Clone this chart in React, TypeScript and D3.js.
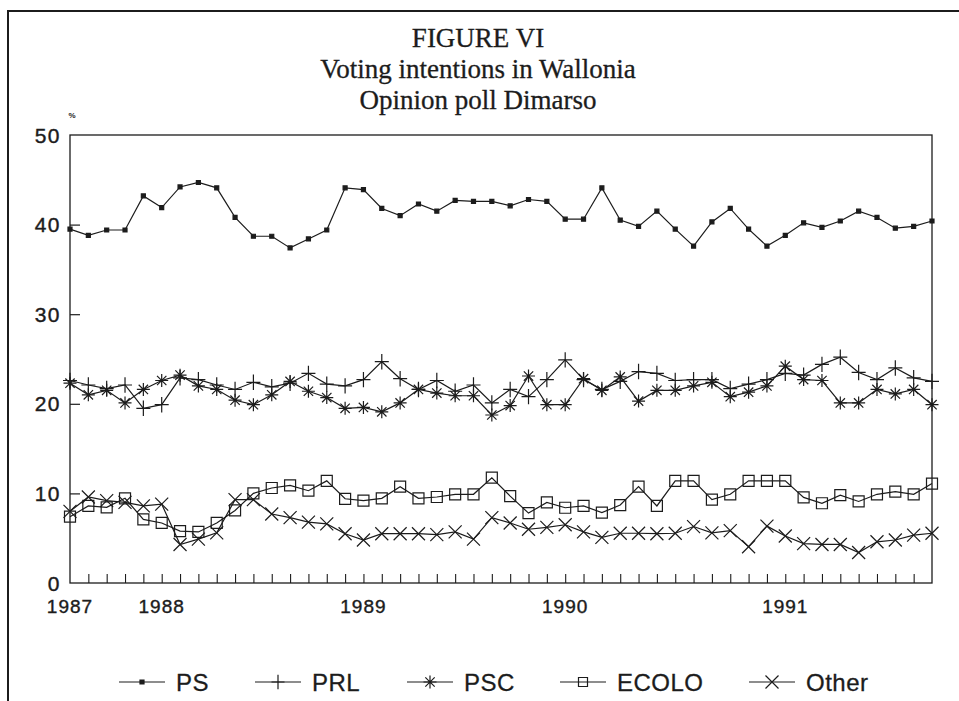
import { useEffect, useRef } from "react";
import * as d3 from "d3";

const ps = [39.5, 38.8, 39.4, 39.4, 43.2, 41.9, 44.2, 44.7, 44.1, 40.8, 38.7, 38.7, 37.4, 38.4, 39.4, 44.1, 43.9, 41.8, 41.0, 42.3, 41.5, 42.7, 42.6, 42.6, 42.1, 42.8, 42.6, 40.6, 40.6, 44.1, 40.5, 39.8, 41.5, 39.5, 37.6, 40.3, 41.8, 39.5, 37.6, 38.8, 40.2, 39.7, 40.4, 41.5, 40.8, 39.6, 39.8, 40.4];
const prl = [22.6, 22.1, 21.7, 22.1, 19.5, 19.9, 22.9, 22.7, 22.1, 21.6, 22.4, 21.9, 22.3, 23.4, 22.2, 22.0, 22.7, 24.7, 22.8, 21.6, 22.6, 21.4, 22.1, 20.1, 21.6, 20.8, 22.7, 24.9, 22.7, 21.6, 22.5, 23.6, 23.4, 22.6, 22.7, 22.7, 21.7, 22.2, 22.7, 23.4, 23.2, 24.4, 25.2, 23.5, 22.7, 24.0, 22.9, 22.5];
const psc = [22.3, 21.0, 21.5, 20.1, 21.6, 22.6, 23.2, 22.0, 21.6, 20.4, 19.9, 21.0, 22.5, 21.4, 20.7, 19.5, 19.6, 19.1, 20.1, 21.6, 21.2, 20.9, 20.9, 18.75, 19.8, 23.1, 19.9, 19.9, 22.8, 21.5, 23.0, 20.3, 21.5, 21.5, 22.0, 22.4, 20.8, 21.3, 22.0, 24.2, 22.7, 22.6, 20.1, 20.1, 21.6, 21.1, 21.6, 19.9];
const ecolo = [7.4, 8.6, 8.45, 9.45, 7.1, 6.7, 5.8, 5.7, 6.7, 8.1, 10.0, 10.6, 10.9, 10.3, 11.4, 9.4, 9.2, 9.45, 10.75, 9.45, 9.6, 9.9, 9.9, 11.75, 9.7, 7.8, 9.0, 8.4, 8.6, 7.85, 8.7, 10.75, 8.6, 11.4, 11.4, 9.3, 9.9, 11.4, 11.4, 11.4, 9.55, 8.9, 9.8, 9.1, 9.9, 10.2, 9.9, 11.1];
const other = [8.0, 9.6, 9.2, 9.0, 8.6, 8.8, 4.3, 4.9, 5.6, 9.3, 9.3, 7.7, 7.3, 6.8, 6.6, 5.5, 4.8, 5.5, 5.5, 5.5, 5.4, 5.7, 4.9, 7.3, 6.7, 6.0, 6.2, 6.5, 5.7, 5.1, 5.55, 5.55, 5.5, 5.55, 6.3, 5.6, 5.85, 4.05, 6.35, 5.25, 4.4, 4.3, 4.3, 3.4, 4.6, 4.8, 5.35, 5.55];

const seriesNames = ["PS", "PRL", "PSC", "ECOLO", "Other"];
const yearLabels = ["1987", "1988", "1989", "1990", "1991"];
const yearIndex = [0, 5, 16, 27, 39];
const yTicks = [0, 10, 20, 30, 40, 50];

const INK = "#1c1c1c";

// marker path for each series, centred on 0,0
function markerPath(name: string, s: number) {
  if (name === "PS") return `M${-s},${-s}h${2 * s}v${2 * s}h${-2 * s}Z`;
  if (name === "PRL") return `M${-s},0H${s}M0,${-s * 1.1}V${s * 1.1}`;
  if (name === "PSC") {
    const d = s * 0.72;
    return `M${-s},0H${s}M0,${-s}V${s}M${-d},${-d}L${d},${d}M${-d},${d}L${d},${-d}`;
  }
  if (name === "ECOLO") return `M${-s},${-s}h${2 * s}v${2 * s}h${-2 * s}Z`;
  return `M${-s},${-s}L${s},${s}M${-s},${s}L${s},${-s}`;
}

const markerSize: Record<string, number> = { PS: 2, PRL: 7, PSC: 6.5, ECOLO: 5.5, Other: 6.5 };

export default function App() {
  const ref = useRef<SVGSVGElement | null>(null);

  useEffect(() => {
    if (!ref.current) return;
    const width = 959;
    const height = 701;
    const svg = d3.select(ref.current).attr("width", width).attr("height", height);
    svg.selectAll("*").remove();

    const values = [ps, prl, psc, ecolo, other];
    const n = ps.length;

    const x = d3.scaleLinear().domain([0, n - 1]).range([70, 932]);
    const y = d3.scaleLinear().domain([0, 50]).range([583, 135]);

    svg.append("rect").attr("width", width).attr("height", height).attr("fill", "white");

    // page frame (top + left)
    svg.append("path")
      .attr("d", `M8,${height}V11H${width}`)
      .attr("fill", "none")
      .attr("stroke", INK)
      .attr("stroke-width", 2);

    // titles
    const titles = ["FIGURE VI", "Voting intentions in Wallonia", "Opinion poll Dimarso"];
    svg.append("g")
      .attr("font-family", "'Liberation Serif', 'DejaVu Serif', serif")
      .attr("font-size", 27)
      .attr("fill", INK)
      .attr("stroke", INK)
      .attr("stroke-width", 0.3)
      .attr("text-anchor", "middle")
      .selectAll("text")
      .data(titles)
      .join("text")
      .attr("x", 478)
      .attr("y", (_, i) => 47 + i * 31)
      .text((d) => d);

    // plot frame
    svg.append("rect")
      .attr("x", x(0))
      .attr("y", y(50))
      .attr("width", x(n - 1) - x(0))
      .attr("height", y(0) - y(50))
      .attr("fill", "none")
      .attr("stroke", INK)
      .attr("stroke-width", 1.3);

    // y axis (ticks inside)
    const yAxis = d3.axisRight(y).tickValues(yTicks.slice(1, -1)).tickSize(10).tickFormat(() => "");
    const gy = svg.append("g").attr("transform", `translate(${x(0)},0)`).call(yAxis);
    gy.select(".domain").remove();
    gy.selectAll("line").attr("stroke", INK).attr("stroke-width", 1.2);

    svg.append("g")
      .attr("font-family", "'Liberation Sans', Arial, sans-serif")
      .attr("font-size", 21)
      .attr("letter-spacing", 1.5)
      .attr("fill", INK)
      .attr("stroke", INK)
      .attr("stroke-width", 0.4)
      .attr("text-anchor", "end")
      .selectAll("text")
      .data(yTicks)
      .join("text")
      .attr("x", 61)
      .attr("y", (d) => y(d) + 7.5)
      .text((d) => d);

    svg.append("text")
      .attr("x", 72)
      .attr("y", 118)
      .attr("font-family", "'Liberation Sans', Arial, sans-serif")
      .attr("font-size", 8)
      .attr("font-weight", "bold")
      .attr("text-anchor", "middle")
      .attr("fill", INK)
      .text("%");

    // x axis ticks (inside, every poll)
    const xAxis = d3.axisTop(x).tickValues(d3.range(1, n - 1)).tickSize(9).tickFormat(() => "");
    const gx = svg.append("g").attr("transform", `translate(0,${y(0)})`).call(xAxis);
    gx.select(".domain").remove();
    gx.selectAll("line").attr("stroke", INK).attr("stroke-width", 1.1);

    svg.append("g")
      .attr("font-family", "'Liberation Sans', Arial, sans-serif")
      .attr("font-size", 19)
      .attr("letter-spacing", 1)
      .attr("fill", INK)
      .attr("stroke", INK)
      .attr("stroke-width", 0.4)
      .attr("text-anchor", "middle")
      .selectAll("text")
      .data(yearLabels)
      .join("text")
      .attr("x", (_, i) => x(yearIndex[i]))
      .attr("y", 613)
      .text((d) => d);

    // series
    const line = d3.line<number>().x((_, i) => x(i)).y((d) => y(d));
    seriesNames.forEach((name, k) => {
      const g = svg.append("g");
      g.append("path")
        .attr("d", line(values[k]))
        .attr("fill", "none")
        .attr("stroke", INK)
        .attr("stroke-width", 1.2);
      g.selectAll("path.m")
        .data(values[k])
        .join("path")
        .attr("class", "m")
        .attr("transform", (d, i) => `translate(${x(i)},${y(d)})`)
        .attr("d", markerPath(name, markerSize[name]))
        .attr("fill", name === "PS" ? INK : "none")
        .attr("stroke", INK)
        .attr("stroke-width", 1.2);
    });

    // legend
    const legendX = [119, 255, 407, 560, 749];
    const legendY = 682;
    const lg = svg.append("g")
      .selectAll("g")
      .data(seriesNames)
      .join("g")
      .attr("transform", (_, i) => `translate(${legendX[i]},${legendY})`);
    lg.append("path")
      .attr("d", "M0,0H46")
      .attr("stroke", INK)
      .attr("stroke-width", 1.2);
    lg.append("path")
      .attr("transform", "translate(23,0)")
      .attr("d", (d) => markerPath(d, d === "PS" ? 2 : d === "ECOLO" ? 4.5 : 6.5))
      .attr("fill", (d) => (d === "PS" ? INK : "none"))
      .attr("stroke", INK)
      .attr("stroke-width", 1.2);
    lg.append("text")
      .attr("x", 57)
      .attr("y", 9)
      .attr("font-family", "'Liberation Sans', Arial, sans-serif")
      .attr("font-size", 24)
      .attr("letter-spacing", 0.5)
      .attr("fill", INK)
      .attr("stroke", INK)
      .attr("stroke-width", 0.3)
      .text((d) => d);
  }, []);

  return <svg ref={ref} style={{ position: "absolute", left: 0, top: 0 }} />;
}
